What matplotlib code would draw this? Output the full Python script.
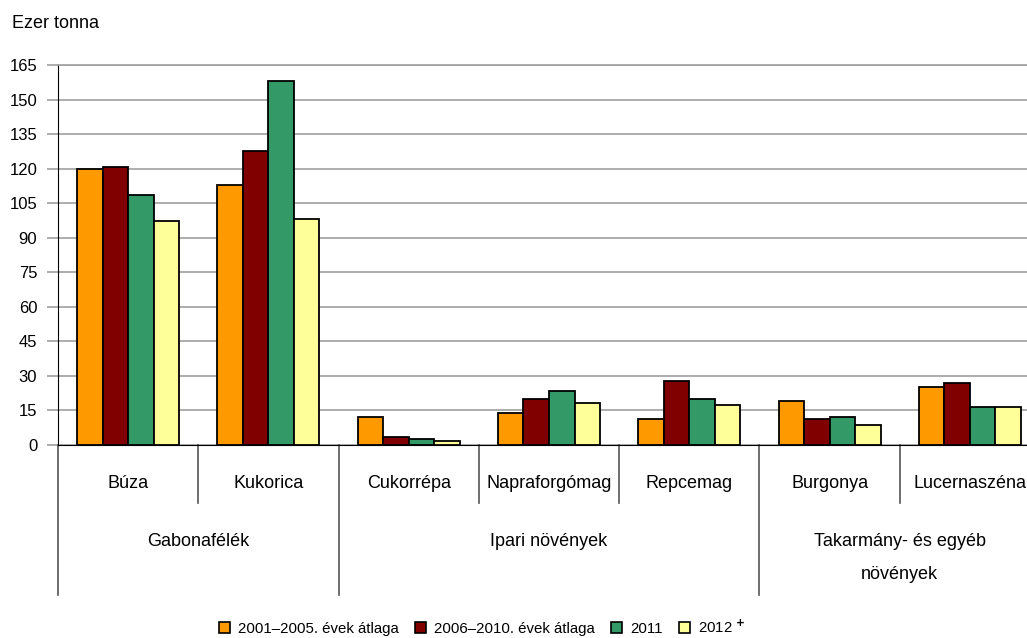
import matplotlib
matplotlib.use("Agg")
import matplotlib.pyplot as plt
import numpy as np
from matplotlib.patches import Patch
from matplotlib.transforms import blended_transform_factory
from matplotlib.lines import Line2D

plt.rcParams['font.family'] = ['Liberation Sans', 'DejaVu Sans']

categories = ["Búza", "Kukorica", "Cukorrépa", "Napraforgómag", "Repcemag", "Burgonya", "Lucernaszéna"]
groups = ["Gabonafélék", "Ipari növények", "Takarmány- és egyéb\nnövények"]
group_spans = [(0, 2), (2, 5), (5, 7)]
series_names = ["2001–2005. évek átlaga", "2006–2010. évek átlaga", "2011", r"2012 $^{\mathbf{+}}$"]
avg_2001_2005 = [120, 113, 12.2, 13.9, 11.1, 19.1, 25.0]
avg_2006_2010 = [120.8, 127.7, 3.5, 19.8, 27.8, 11.3, 26.8]
y2011 = [108.4, 158, 2.5, 23.3, 19.8, 12.2, 16.4]
y2012 = [97.3, 98, 1.7, 18.1, 17.4, 8.7, 16.4]
yticks = list(range(0, 166, 15))

series = [avg_2001_2005, avg_2006_2010, y2011, y2012]
colors = ["#FF9900", "#800000", "#339966", "#FFFF99"]

W, H = 1027, 638
fig = plt.figure(figsize=(W / 100, H / 100), dpi=100)
ax = fig.add_axes([58 / W, 1 - 445 / H, 982 / W, 380 / H])

x = np.arange(len(categories)) + 0.5
bw = 0.182
for i, (vals, c) in enumerate(zip(series, colors)):
    ax.bar(x + (i - 1.5) * bw, vals, width=bw, color=c, edgecolor="black", linewidth=1.3, zorder=3)

ax.set_xlim(0, 7)
ax.set_ylim(0, 165)
ax.set_yticks(yticks)
ax.set_yticklabels([str(t) for t in yticks], fontsize=12)
ax.yaxis.grid(True, color="#a0a0a0", linewidth=1.2, zorder=0)
ax.set_xticks([])
ax.tick_params(axis="y", length=8, color="#a0a0a0", width=1.2, pad=7)
ax.spines["right"].set_visible(False)
ax.spines["top"].set_color("#a0a0a0")
ax.spines["top"].set_linewidth(1.2)
ax.spines["left"].set_color("black")
ax.spines["bottom"].set_color("black")

fig.text(12 / W, 1 - 23 / H, "Ezer tonna", fontsize=13, va="center", ha="left")

tr = blended_transform_factory(ax.transData, fig.transFigure)
y0 = 1 - 445 / H
y_inner = 1 - 503 / H
y_outer = 1 - 595 / H
for b in [1, 3, 4, 6]:
    ax.add_line(Line2D([b, b], [y0, y_inner], transform=tr, color="#555555", lw=1.2, clip_on=False))
for b in [0, 2, 5]:
    ax.add_line(Line2D([b, b], [y0, y_outer], transform=tr, color="#555555", lw=1.2, clip_on=False))

for xi, name in zip(x, categories):
    ax.text(xi, 1 - 483 / H, name, transform=tr, ha="center", va="center", fontsize=13, clip_on=False)
for (a, b), g in zip(group_spans, groups):
    ax.text((a + b) / 2, 1 - 558 / H if "\n" in g else 1 - 542 / H, g, transform=tr, ha="center",
            va="center", fontsize=13, linespacing=2.2, clip_on=False)

handles = [Patch(facecolor=c, edgecolor="black", linewidth=1.2) for c in colors]
fig.legend(handles, series_names, loc="center", bbox_to_anchor=(482 / W, 1 - 627 / H), ncol=4,
           frameon=False, fontsize=10.8, handlelength=0.75, handleheight=0.75, handletextpad=0.5,
           columnspacing=1.1, borderpad=0)

fig.savefig("out.png", dpi=100)
